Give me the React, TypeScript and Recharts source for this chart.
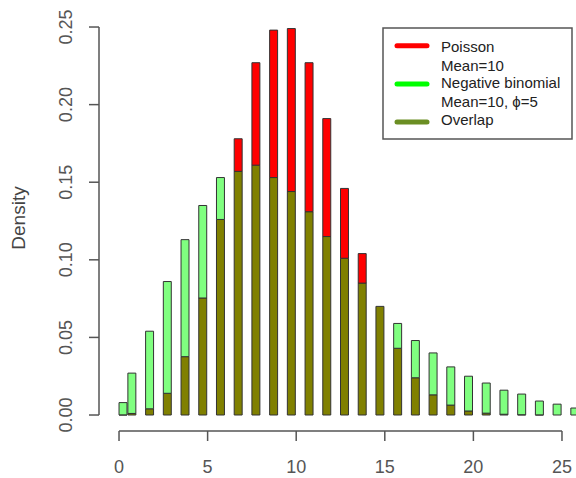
import React from 'react';
import { BarChart, Bar, XAxis, YAxis, ReferenceLine, Label } from 'recharts';

// Histogram bins: first bin [0,0.5], then (k-0.5, k] -> centre at k-0.25
const counts = [0, 1, 2, 3, 4, 5, 6, 7, 8, 9, 10, 11, 12, 13, 14, 15, 16, 17, 18, 19, 20, 21, 22, 23, 24, 25, 26];
const binCenters = [0.25, 0.75, 1.75, 2.75, 3.75, 4.75, 5.75, 6.75, 7.75, 8.75, 9.75, 10.75, 11.75, 12.75, 13.75, 14.75, 15.75, 16.75, 17.75, 18.75, 19.75, 20.75, 21.75, 22.75, 23.75, 24.75, 25.75];

// Densities
const poissonDensity = [0.0001, 0.001, 0.004, 0.014, 0.0376, 0.0754, 0.126, 0.178, 0.227, 0.248, 0.249, 0.227, 0.191, 0.146, 0.104, 0.07, 0.043, 0.024, 0.013, 0.0064, 0.0026, 0.0012, 0.0005, 0.0002, 0.0001, 0, 0];
const negBinDensity = [0.008, 0.027, 0.054, 0.086, 0.113, 0.135, 0.153, 0.157, 0.161, 0.153, 0.144, 0.131, 0.115, 0.101, 0.085, 0.07, 0.059, 0.048, 0.04, 0.031, 0.025, 0.0206, 0.016, 0.0135, 0.009, 0.007, 0.0045];

const xTicks = [0, 5, 10, 15, 20, 25];
const yTicks = [0, 0.05, 0.1, 0.15, 0.2, 0.25];
const xDomain = [-1.13, 26];
const yDomain = [-0.0103, 0.26];

const legendItems = [
  { lines: ['Poisson', 'Mean=10'], color: '#FF0000' },
  { lines: ['Negative binomial', 'Mean=10, \u03D5=5'], color: '#00FF00' },
  { lines: ['Overlap'], color: '#6B8E23' },
];

const data = counts.map((k, i) => {
  const p = poissonDensity[i];
  const n = negBinDensity[i];
  return {
    k,
    x: binCenters[i],
    overlap: Math.min(p, n),
    poissonOnly: Math.max(0, p - n),
    negBinOnly: Math.max(0, n - p),
  };
});

const FONT = 'Arial, "Liberation Sans", Helvetica, sans-serif';
const AXIS = '#555';

const YTick = (props: any) => {
  const { x, y, payload } = props;
  return (
    <text
      transform={`translate(${x - 15},${y}) rotate(-90)`}
      textAnchor="middle"
      fontSize={18}
      fontFamily={FONT}
      fill={AXIS}
    >
      {Number(payload.value).toFixed(2)}
    </text>
  );
};

const Legend = () => {
  const baselines = [25, 44, 61, 80, 98];
  const swatchY = [18.7, 57, 95];
  let lineIdx = 0;
  return (
    <svg width={192} height={114} style={{ position: 'absolute', left: 382, top: 27 }}>
      <rect x={1} y={1} width={189} height={111} fill="#fff" stroke={AXIS} strokeWidth={1.5} />
      {legendItems.map((it, i) => (
        <g key={i}>
          <line x1={15} x2={45} y1={swatchY[i]} y2={swatchY[i]} stroke={it.color} strokeWidth={5} strokeLinecap="round" />
          {it.lines.map((t) => {
            const by = baselines[lineIdx++];
            return (
              <text key={t} x={59} y={by} fontSize={15} fontFamily={FONT} fill="#222">
                {t}
              </text>
            );
          })}
        </g>
      ))}
    </svg>
  );
};

export default function App() {
  return (
    <div
      style={{
        position: 'absolute',
        left: 0,
        top: 0,
        width: 576,
        height: 478,
        overflow: 'hidden',
        background: '#fff',
      }}
    >
      <BarChart
        width={584}
        height={478}
        data={data}
        margin={{ top: 11.5, right: 4.3, bottom: 0, left: 0 }}
      >
        <XAxis
          type="number"
          dataKey="x"
          domain={xDomain}
          ticks={xTicks}
          allowDataOverflow
          axisLine={false}
          tickSize={10}
          tickMargin={19}
          height={47}
          tickLine={{ stroke: AXIS, strokeWidth: 1.5 }}
          tick={{ fontSize: 18, fontFamily: FONT, fill: AXIS }}
          interval={0}
        />
        <YAxis
          type="number"
          domain={yDomain}
          ticks={yTicks}
          allowDataOverflow
          axisLine={false}
          width={99}
          tickSize={10}
          tickLine={{ stroke: AXIS, strokeWidth: 1.5 }}
          tick={<YTick />}
          interval={0}
        >
          <Label
            content={() => (
              <text
                transform="translate(25,218) rotate(-90)"
                textAnchor="middle"
                fontSize={19}
                fontFamily={FONT}
                fill="#444"
              >
                Density
              </text>
            )}
          />
        </YAxis>
        <ReferenceLine
          segment={[{ x: xDomain[0], y: yTicks[0] }, { x: xDomain[0], y: yTicks[yTicks.length - 1] }]}
          stroke={AXIS}
          strokeWidth={1.5}
          ifOverflow="visible"
        />
        <ReferenceLine
          segment={[{ x: xTicks[0], y: yDomain[0] }, { x: xTicks[xTicks.length - 1], y: yDomain[0] }]}
          stroke={AXIS}
          strokeWidth={1.5}
          ifOverflow="visible"
        />
        <Bar dataKey="overlap" stackId="a" fill="#808000" stroke="#333" strokeWidth={1} barSize={8.86} isAnimationActive={false} />
        <Bar dataKey="poissonOnly" stackId="a" fill="#FF0000" stroke="#333" strokeWidth={1} barSize={8.86} isAnimationActive={false} />
        <Bar dataKey="negBinOnly" stackId="a" fill="#80FF80" stroke="#333" strokeWidth={1} barSize={8.86} isAnimationActive={false} />
      </BarChart>
      <Legend />
    </div>
  );
}
